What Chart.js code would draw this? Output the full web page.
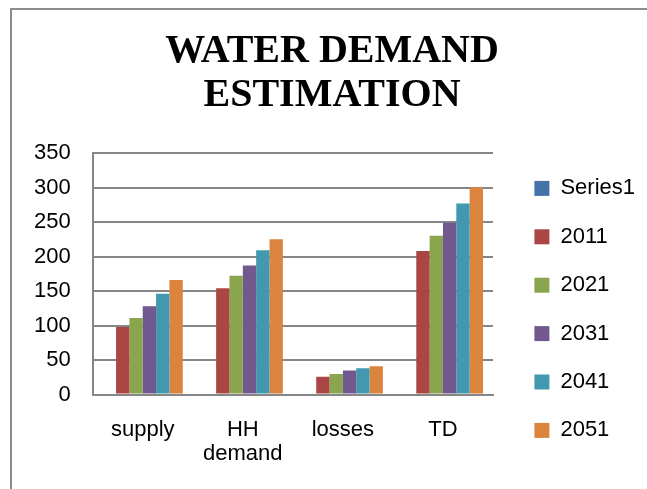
<!DOCTYPE html>
<html>
<head>
<meta charset="utf-8">
<script src="https://cdn.jsdelivr.net/npm/chart.js@4/dist/chart.umd.min.js"></script>
<style>
  body { margin: 0; background: #fff; }
  #wrap { position: relative; width: 647px; height: 489px; }
  #frame {
    position: absolute; left: 10px; top: 8px; width: 700px; height: 600px;
    border-left: 2px solid #8c8c8c; border-top: 2px solid #8c8c8c;
  }
  canvas { position: absolute; left: 0; top: 0; }
</style>
</head>
<body>
<div id="wrap">
  <div id="frame"></div>
  <canvas id="waterChart" width="647" height="489"></canvas>
</div>
<script>
const categories = ["supply", ["HH", "demand"], "losses", "TD"];
const seriesNames = ["Series1", "2011", "2021", "2031", "2041", "2051"];
const series1 = [0, 0, 0, 0];
const y2011 = [98, 154, 26, 208];
const y2021 = [111, 172, 30, 230];
const y2031 = [128, 187, 35, 249];
const y2041 = [146, 209, 38, 277];
const y2051 = [166, 225, 41, 300];
const yTicks = [0, 50, 100, 150, 200, 250, 300, 350];

const colors = ["#4572A7", "#AA4643", "#89A54E", "#71588F", "#4198AF", "#DB843D"];
const allValues = [series1, y2011, y2021, y2031, y2041, y2051];

const ctx = document.getElementById("waterChart").getContext("2d");
const sansFont = "'Liberation Sans', Arial, sans-serif";

// nudge title and legend to where Excel put them
const placeBoxes = {
  id: "placeBoxes",
  afterLayout(chart) {
    const lg = chart.legend;
    const h = lg.bottom - lg.top;
    lg.left += 15;
    lg.right += 15;
    lg.top = 151;
    lg.bottom = lg.top + h;
    chart.titleBlock.left += 11;
    chart.titleBlock.right += 11;
  },
};

let waterChart = new Chart(ctx, {
  type: "bar",
  data: {
    labels: categories,
    datasets: allValues.map((vals, i) => ({
      label: seriesNames[i],
      data: vals,
      backgroundColor: colors[i],
      borderWidth: 0,
      categoryPercentage: 0.8,
      barPercentage: 1.0,
    })),
  },
  options: {
    responsive: false,
    animation: false,
    layout: { padding: { left: 12, right: 17, top: 8, bottom: 0 } },
    plugins: {
      title: {
        display: true,
        text: ["WATER DEMAND", "ESTIMATION"],
        color: "#000",
        font: { family: "'Liberation Serif', 'Times New Roman', serif", size: 40, weight: "bold", lineHeight: 1.1 },
        padding: { top: 22, bottom: 35 },
      },
      legend: {
        position: "right",
        align: "start",
        labels: {
          boxWidth: 15,
          boxHeight: 15,
          padding: 26.4,
          color: "#000",
          font: { family: sansFont, size: 22 },
        },
      },
      tooltip: { enabled: false },
    },
    scales: {
      x: {
        grid: { display: false, drawTicks: false },
        border: { color: "#868686", width: 2 },
        ticks: { color: "#000", font: { family: sansFont, size: 22, lineHeight: 1.1 }, padding: 23, maxRotation: 0 },
      },
      y: {
        min: 0,
        max: 350,
        afterBuildTicks: (axis) => { axis.ticks = yTicks.map((v) => ({ value: v })); },
        grid: { color: "#868686", lineWidth: 2, drawTicks: false },
        border: { color: "#868686", width: 2 },
        ticks: { color: "#000", font: { family: sansFont, size: 22 }, padding: 22 },
      },
    },
  },
  plugins: [placeBoxes],
});
</script>
</body>
</html>
